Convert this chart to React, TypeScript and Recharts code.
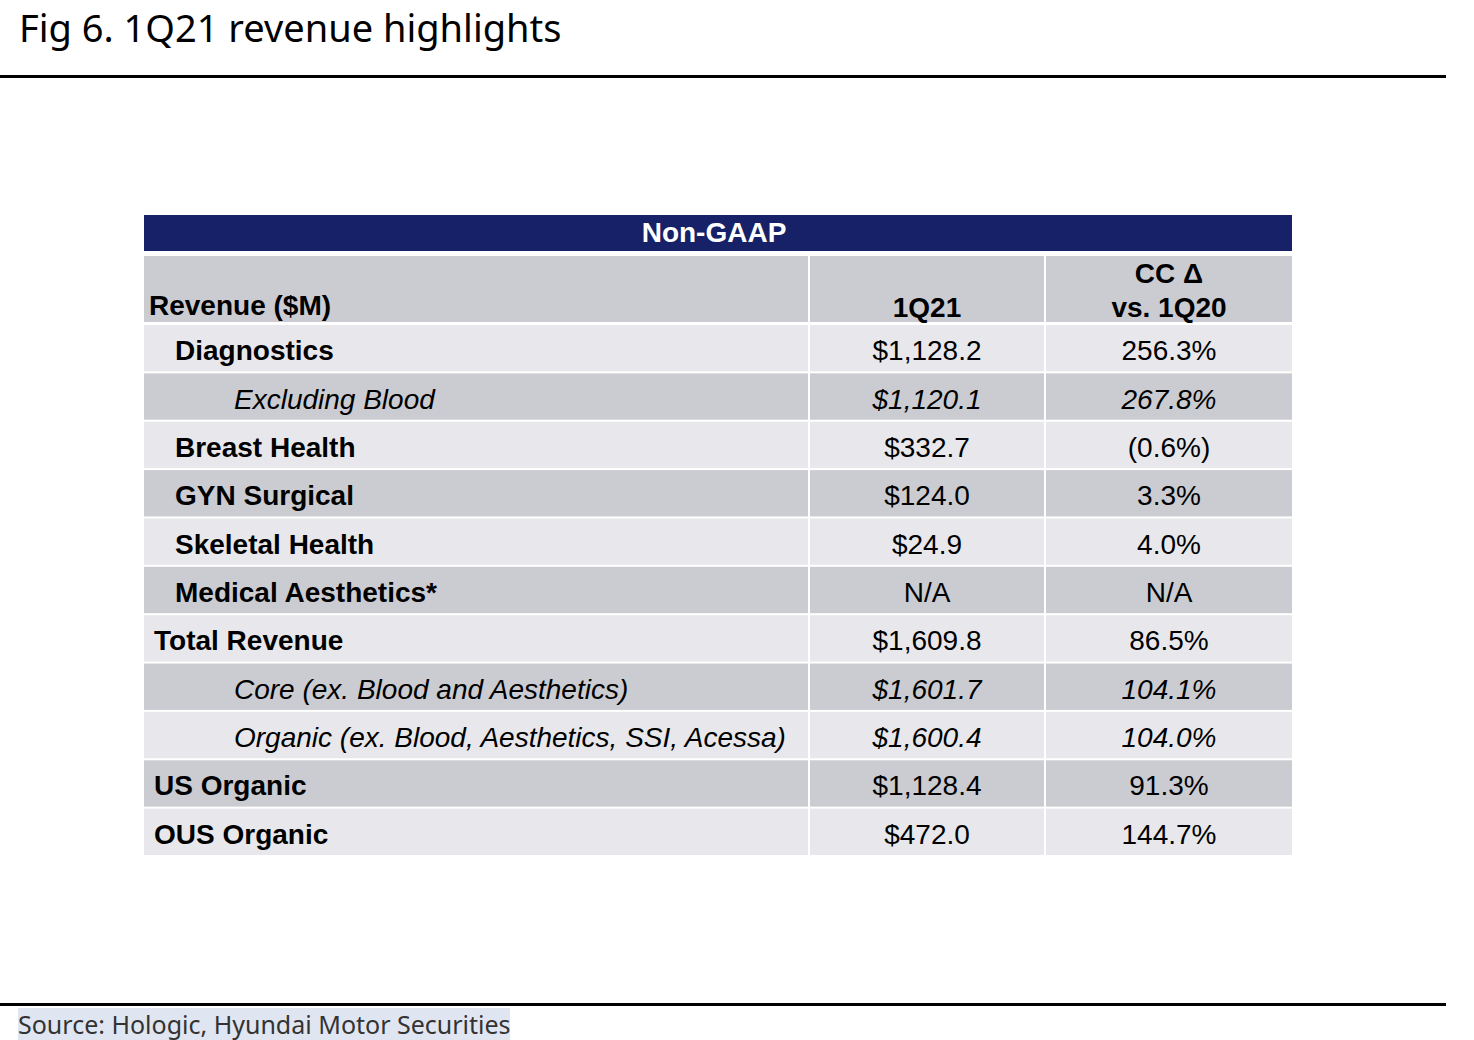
import React from 'react';
import { BarChart, Bar, XAxis, YAxis } from 'recharts';

const rowLabels = [
  'Diagnostics',
  'Excluding Blood',
  'Breast Health',
  'GYN Surgical',
  'Skeletal Health',
  'Medical Aesthetics*',
  'Total Revenue',
  'Core (ex. Blood and Aesthetics)',
  'Organic (ex. Blood, Aesthetics, SSI, Acessa)',
  'US Organic',
  'OUS Organic',
];
const revenueM = [1128.2, 1120.1, 332.7, 124.0, 24.9, null, 1609.8, 1601.7, 1600.4, 1128.4, 472.0];
const ccChange = [256.3, 267.8, -0.6, 3.3, 4.0, null, 86.5, 104.1, 104.0, 91.3, 144.7];
// 0 = bold top level, 1 = bold sub item, 2 = italic detail
const rowLevel = [1, 2, 1, 1, 1, 1, 0, 2, 2, 0, 0];

const rows = rowLabels.map((name, i) => ({ name, rev: revenueM[i], cc: ccChange[i] }));

const fmtRev = (v: number | null) =>
  v == null ? 'N/A' : '$' + v.toLocaleString('en-US', { minimumFractionDigits: 1, maximumFractionDigits: 1 });
const fmtPct = (v: number | null) =>
  v == null ? 'N/A' : v < 0 ? `(${Math.abs(v).toFixed(1)}%)` : `${v.toFixed(1)}%`;

const TABLE_W = 1148;
const TABLE_H = 532;
const ROW_H = TABLE_H / rowLabels.length;
const COL1 = 664;
const COL2 = 902;
const DARK = '#cbccd1';
const LIGHT = '#e8e8ec';
const FONT = '"Liberation Sans", Arial, sans-serif';
const FS = 28;

const RowTick = (props: any) => {
  const { y, index } = props;
  const fill = index % 2 === 0 ? LIGHT : DARK;
  const lvl = rowLevel[index];
  const italic = lvl === 2;
  const top = y - ROW_H / 2 + 1;
  const h = ROW_H - 2;
  const base = y + 12;
  const labelX = lvl === 0 ? 10 : lvl === 1 ? 31 : 90;
  return (
    <g>
      <rect x={0} y={top} width={COL1} height={h} fill={fill} />
      <rect x={COL1 + 2} y={top} width={COL2 - COL1 - 4} height={h} fill={fill} />
      <rect x={COL2} y={top} width={TABLE_W - COL2} height={h} fill={fill} />
      <text x={labelX} y={base} fontFamily={FONT} fontSize={FS} fontWeight={italic ? 400 : 700}
        fontStyle={italic ? 'italic' : 'normal'} fill="#000">{rowLabels[index]}</text>
      <text x={(COL1 + COL2) / 2} y={base} textAnchor="middle" fontFamily={FONT} fontSize={FS}
        fontStyle={italic ? 'italic' : 'normal'} fill="#000">{fmtRev(revenueM[index])}</text>
      <text x={(COL2 + TABLE_W) / 2} y={base} textAnchor="middle" fontFamily={FONT} fontSize={FS}
        fontStyle={italic ? 'italic' : 'normal'} fill="#000">{fmtPct(ccChange[index])}</text>
    </g>
  );
};

const abs = (left: number, top: number, extra: React.CSSProperties = {}): React.CSSProperties => ({
  position: 'absolute', left, top, ...extra,
});

export default function App() {
  return (
    <div style={{ position: 'absolute', left: 0, top: 0, width: 1474, height: 1040, background: '#fff', overflow: 'hidden' }}>
      <div style={abs(19, 1, { fontFamily: '"Noto Sans", sans-serif', fontSize: 38, color: '#000', whiteSpace: 'nowrap' })}>
        Fig 6. 1Q21 revenue highlights
      </div>
      <div style={abs(0, 75, { width: 1446, height: 3, background: '#000' })} />

      {/* header band */}
      <div style={abs(144, 215, { width: TABLE_W, height: 36, background: '#162167', color: '#fff',
        fontFamily: FONT, fontWeight: 700, fontSize: FS, textAlign: 'center', lineHeight: '36px', textIndent: -8 })}>
        Non-GAAP
      </div>
      <div style={abs(144, 256, { width: COL1, height: 66, background: DARK })} />
      <div style={abs(144 + COL1 + 2, 256, { width: COL2 - COL1 - 4, height: 66, background: DARK })} />
      <div style={abs(144 + COL2, 256, { width: TABLE_W - COL2, height: 66, background: DARK })} />
      <div style={abs(149, 290, { fontFamily: FONT, fontWeight: 700, fontSize: FS, lineHeight: '32px' })}>Revenue ($M)</div>
      <div style={abs(144 + COL1 + 2, 292, { width: COL2 - COL1 - 4, textAlign: 'center', fontFamily: FONT, fontWeight: 700, fontSize: FS, lineHeight: '32px' })}>1Q21</div>
      <div style={abs(144 + COL2, 257, { width: TABLE_W - COL2, textAlign: 'center', fontFamily: FONT, fontWeight: 700, fontSize: FS, lineHeight: '34px' })}>
        CC &#916;<br />vs. 1Q20
      </div>

      <div style={abs(144, 324)}>
        <BarChart width={TABLE_W} height={TABLE_H} data={rows} layout="vertical"
          margin={{ top: 0, right: 0, bottom: 0, left: 0 }} barCategoryGap={2}>
          <XAxis type="number" hide domain={[0, 2000]} />
          <YAxis type="category" dataKey="name" width={1} axisLine={false} tickLine={false}
            interval={0} tick={<RowTick />} />
          <Bar dataKey="rev" fill="transparent" isAnimationActive={false} />
        </BarChart>
      </div>

      <div style={abs(0, 1003, { width: 1446, height: 3, background: '#000' })} />
      <div style={abs(18, 1008, { width: 492, height: 32, background: '#e0e6f1', fontFamily: '"Noto Sans", sans-serif',
        fontSize: 25, color: '#333', lineHeight: '32px', whiteSpace: 'nowrap' })}>
        Source: Hologic, Hyundai Motor Securities
      </div>
    </div>
  );
}
